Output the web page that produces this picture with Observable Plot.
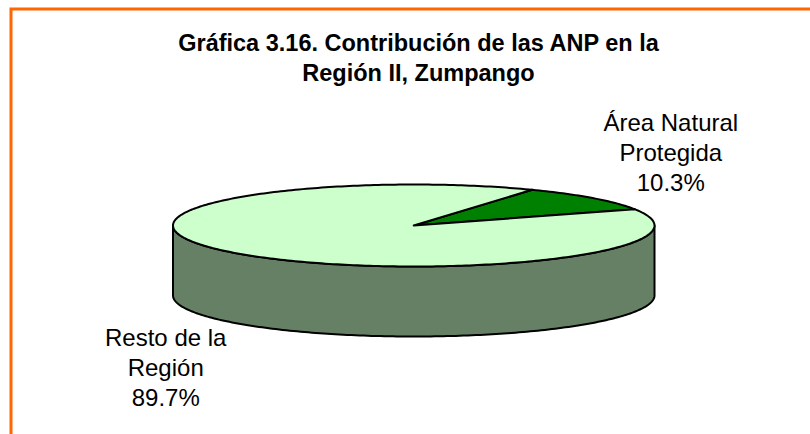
<!DOCTYPE html>
<html>
<head>
<meta charset="utf-8">
<script src="https://cdn.jsdelivr.net/npm/d3@7"></script>
<script src="https://cdn.jsdelivr.net/npm/@observablehq/plot@0.6"></script>
<style>
  html, body { margin: 0; padding: 0; background: #fff; overflow: hidden; }
  #chart { width: 810px; height: 434px; }
  #chart svg { display: block; }
</style>
</head>
<body>
<div id="chart"></div>
<script>
const title = "Gráfica 3.16. Contribución de las ANP en la\nRegión II, Zumpango";
const categories = ["Área Natural Protegida", "Resto de la Región"];
const values = [10.3, 89.7];
const topColors = ["#008000", "#CCFFCC"];
const sideColors = ["#004000", "#668066"];

// geometry / style constants
const startDeg = 29.5;      // rotation of first slice (clockwise from 12 o'clock)
const depth = 70 / 41;      // cylinder height in y-units (1 unit = ellipse half-height)
const rad = Math.PI / 180;

const arcs = d3.pie().sort(null)
  .startAngle(startDeg * rad)
  .endAngle(startDeg * rad + 2 * Math.PI)(values);

function rim(a0, a1, dy = 0) {
  const pts = [];
  const n = Math.max(2, Math.ceil(Math.abs(a1 - a0) / rad));
  for (let i = 0; i <= n; i++) {
    const a = a0 + (a1 - a0) * i / n;
    pts.push({x: Math.sin(a), y: Math.cos(a) + dy});
  }
  return pts;
}

// visible (front) side pieces
const sides = [];
arcs.forEach((arc, i) => {
  for (const k of [0, 1]) {
    const lo = Math.PI / 2 + k * 2 * Math.PI, hi = 3 * Math.PI / 2 + k * 2 * Math.PI;
    const a0 = Math.max(arc.startAngle, lo), a1 = Math.min(arc.endAngle, hi);
    if (a1 > a0) {
      const top = rim(a0, a1, 0);
      const bot = rim(a1, a0, -depth);
      const pts = [...top, ...bot, top[0]];
      sides.push({pts, fill: sideColors[i]});
    }
  }
});

// top faces
const tops = arcs.map((arc, i) => {
  const pts = [{x: 0, y: 0}, ...rim(arc.startAngle, arc.endAngle, 0), {x: 0, y: 0}];
  return {pts, fill: topColors[i]};
});

// label anchors on the rim at each slice's mid-angle
const labels = arcs.map((arc, i) => {
  const m = (arc.startAngle + arc.endAngle) / 2;
  return {x: Math.sin(m), y: Math.cos(m), text: `${categories[i]}\n${values[i].toFixed(1)}%`};
});
const labelOffsets = [[78, -47], [-69, 113]];

const polyMark = p => Plot.line(p.pts, {
  x: "x", y: "y", fill: p.fill, stroke: "#000", strokeWidth: 2,
  strokeLinejoin: "round", curve: "linear"
});

const plot = Plot.plot({
  width: 810,
  height: 434,
  margin: 0,
  style: {fontFamily: "'Liberation Sans', Arial, sans-serif", background: "#fff", color: "#000"},
  x: {domain: [-1, 1], range: [172.5, 654], axis: null},
  y: {domain: [-1 - depth, 1], range: [336, 184], axis: null},
  marks: [
    Plot.frame({stroke: "#FF6600", strokeWidth: 3, insetLeft: 10.5, insetTop: 8.5, insetRight: -20, insetBottom: -20}),
    ...sides.map(polyMark),
    ...tops.map(polyMark),
    ...labels.map((d, i) => Plot.text([d], {
      x: "x", y: "y", text: "text", fontSize: 24, lineWidth: 7, lineHeight: 1.25,
      textAnchor: "middle", lineAnchor: "middle", fill: "#000",
      dx: labelOffsets[i][0], dy: labelOffsets[i][1]
    })),
    Plot.text([title], {
      frameAnchor: "top", text: d => d, dx: 13, dy: 29.3,
      fontSize: 23.5, fontWeight: "bold", lineAnchor: "top", lineHeight: 30 / 23.5,
      textAnchor: "middle", fill: "#000"
    })
  ]
});
document.getElementById("chart").appendChild(plot);
</script>
</body>
</html>
